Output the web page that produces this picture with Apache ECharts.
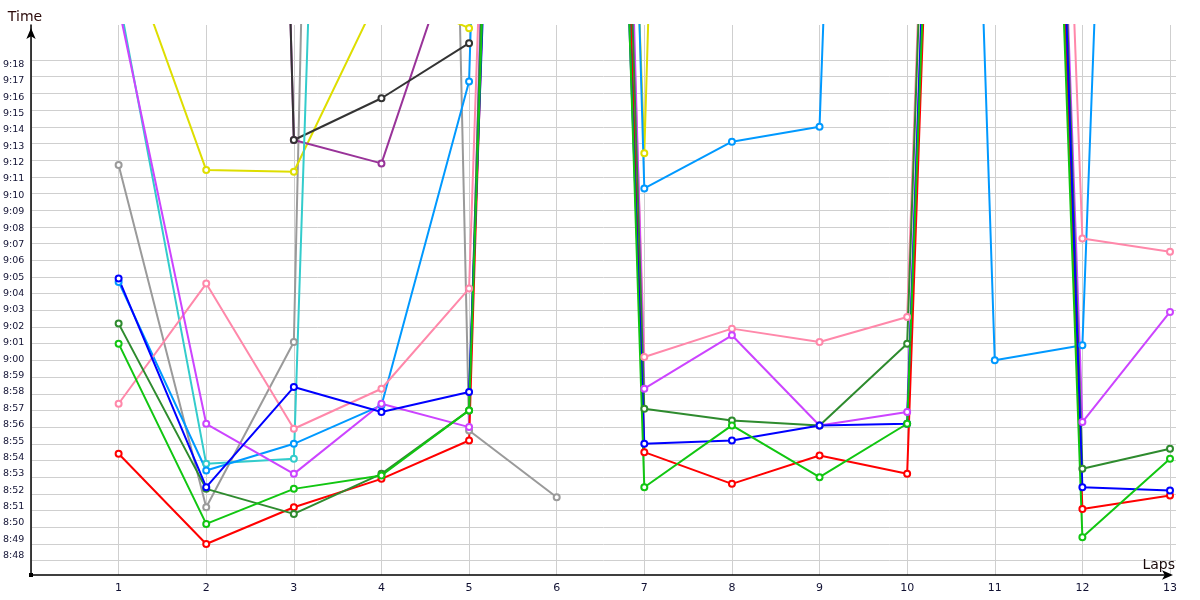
<!DOCTYPE html>
<html>
<head>
<meta charset="utf-8">
<title>Lap times</title>
<script src="https://cdn.jsdelivr.net/npm/echarts@6/dist/echarts.min.js"></script>
<style>
  html, body { margin: 0; padding: 0; background: #fff; }
  #chart { width: 1200px; height: 600px; }
</style>
</head>
<body>
<div id="chart"></div>
<script>
// laps on the x axis
const laps = [1, 2, 3, 4, 5, 6, 7, 8, 9, 10, 11, 12, 13]

// lap times in seconds (8:48 = 528), null = no lap
const gray       = [551.7, 531.2, 541.1, 771, 535.8, 531.8, null, null, null, null, null, null, null]
const yellow     = [566.0, 551.4, 551.3, 562.2, 559.9, 696.4, 552.4, 729, null, null, null, null, null]
const darkPurple = [null, 739, 553.2, 551.8, 567.4, null, null, null, null, null, null, null, null]
const black      = [null, 739.5, 553.2, 555.7, 559.0, null, null, null, null, null, null, null, null]
const cyan       = [561.8, 533.8, 534.1, 694.5, null, null, null, null, null, null, null, null, null]
const lightBlue  = [544.7, 533.4, 535.0, 537.3, 556.7, 729, 550.3, 553.1, 554.0, 698, 540.0, 540.9, 682]
const pink       = [537.4, 544.6, 535.9, 538.3, 544.3, 699, 540.2, 541.9, 541.1, 542.6, 688, 547.3, 546.5]
const violet     = [561.2, 536.2, 533.2, 537.4, 536.0, 725, 538.3, 541.5, 536.1, 536.9, 684, 536.3, 542.9]
const red        = [534.4, 529.0, 531.2, 532.9, 535.2, 704, 534.5, 532.6, 534.3, 533.2, 681, 531.1, 531.9]
const darkGreen  = [542.2, 532.3, 530.8, 533.2, 537.0, 710, 537.1, 536.4, 536.1, 541.0, 690, 533.5, 534.7]
const blue       = [544.9, 532.4, 538.4, 536.9, 538.1, 682, 535.0, 535.2, 536.1, 536.2, 686, 532.4, 532.2]
const green      = [541.0, 530.2, 532.3, 533.1, 537.0, 695, 532.4, 536.1, 533.0, 536.2, 676, 529.4, 534.1]

// axis labels run from 8:48 to 9:18, one per second
const labelMin = 528
const labelMax = 558

const lineSeries = [
  { data: gray, color: '#9a9a9a' },
  { data: yellow, color: '#dede00' },
  { data: darkPurple, color: '#993399' },
  { data: black, color: '#333333' },
  { data: cyan, color: '#33cccc' },
  { data: lightBlue, color: '#0099ff' },
  { data: pink, color: '#ff88aa' },
  { data: violet, color: '#cc44ff' },
  { data: red, color: '#ff0000' },
  { data: darkGreen, color: '#2e8b2e' },
  { data: blue, color: '#0000ff' },
  { data: green, color: '#11c611' }
]

const fmtTime = v => Math.floor(v / 60) + ':' + String(Math.round(v % 60)).padStart(2, '0')

const chart = echarts.init(document.getElementById('chart'))

const option = {
  animation: false,
  backgroundColor: '#fff',
  grid: [
    { left: 31, right: 30, top: 25, bottom: 25 },      // data
    { left: 31, right: 24, top: 60, bottom: 39.3 },    // horizontal grid lines
    { left: 31, right: 30, top: 64.3, bottom: 44.3 },  // time labels
    { left: 31, right: 30, top: 25, bottom: 25 }       // origin marker
  ],
  xAxis: [
    {
      gridIndex: 0,
      type: 'value',
      min: 0,
      max: 13,
      interval: 1,
      axisLine: {
        show: true,
        onZero: false,
        symbol: ['none', 'arrow'],
        symbolSize: [7, 11],
        symbolOffset: [0, 3],
        lineStyle: { color: '#000', width: 1.5 }
      },
      axisTick: { show: false },
      axisLabel: {
        formatter: v => (v === 0 ? '' : String(v)),
        color: '#111133',
        fontFamily: 'DejaVu Sans',
        fontSize: 11,
        margin: 8
      },
      splitLine: { show: true, lineStyle: { color: '#cfcfcf', width: 1 } },
      name: 'Laps',
      nameLocation: 'end',
      nameGap: 5,
      nameTextStyle: {
        align: 'right',
        verticalAlign: 'bottom',
        padding: [0, 0, 3, 0],
        color: '#1a0a0a',
        fontFamily: 'DejaVu Sans',
        fontSize: 14
      }
    },
    { gridIndex: 1, type: 'value', min: 0, max: 1, show: false },
    { gridIndex: 2, type: 'value', min: 0, max: 1, show: false },
    {
      gridIndex: 3,
      type: 'value',
      min: 0,
      max: 1,
      axisLine: {
        show: true,
        onZero: false,
        symbol: ['rect', 'none'],
        symbolSize: [4, 4],
        lineStyle: { color: '#000', width: 0 }
      },
      axisTick: { show: false },
      axisLabel: { show: false },
      splitLine: { show: false }
    }
  ],
  yAxis: [
    {
      gridIndex: 0,
      type: 'value',
      min: 527.14,
      max: 560.09,
      axisLine: {
        show: true,
        onZero: false,
        symbol: ['none', 'arrow'],
        symbolSize: [7, 11],
        symbolOffset: [0, -3],
        lineStyle: { color: '#000', width: 1.5 }
      },
      axisTick: { show: false },
      axisLabel: { show: false },
      splitLine: { show: false },
      name: 'Time',
      nameLocation: 'end',
      nameGap: 1,
      nameTextStyle: {
        padding: [0, 12, 0, 0],
        color: '#2a0a0a',
        fontFamily: 'DejaVu Sans',
        fontSize: 14
      }
    },
    {
      gridIndex: 1,
      type: 'value',
      min: labelMin,
      max: labelMax,
      interval: 1,
      axisLine: { show: false },
      axisTick: { show: false },
      axisLabel: { show: false },
      splitLine: { show: true, lineStyle: { color: '#cfcfcf', width: 1 } }
    },
    {
      gridIndex: 2,
      type: 'value',
      min: labelMin,
      max: labelMax,
      interval: 1,
      axisLine: { show: false },
      axisTick: { show: false },
      axisLabel: {
        formatter: fmtTime,
        color: '#111133',
        fontFamily: 'DejaVu Sans',
        fontSize: 9.5,
        margin: 9
      },
      splitLine: { show: false }
    },
    { gridIndex: 3, type: 'value', min: 0, max: 1, show: false }
  ],
  series: lineSeries.map(s => ({
    type: 'line',
    xAxisIndex: 0,
    yAxisIndex: 0,
    data: laps.map((lap, i) => [lap, s.data[i]]),
    connectNulls: false,
    clip: true,
    symbol: 'emptyCircle',
    symbolSize: 6,
    showAllSymbol: true,
    lineStyle: { color: s.color, width: 2 },
    itemStyle: { color: s.color, borderColor: s.color, borderWidth: 1.2 },
    emphasis: { disabled: true }
  }))
}

chart.setOption(option)
</script>
</body>
</html>
